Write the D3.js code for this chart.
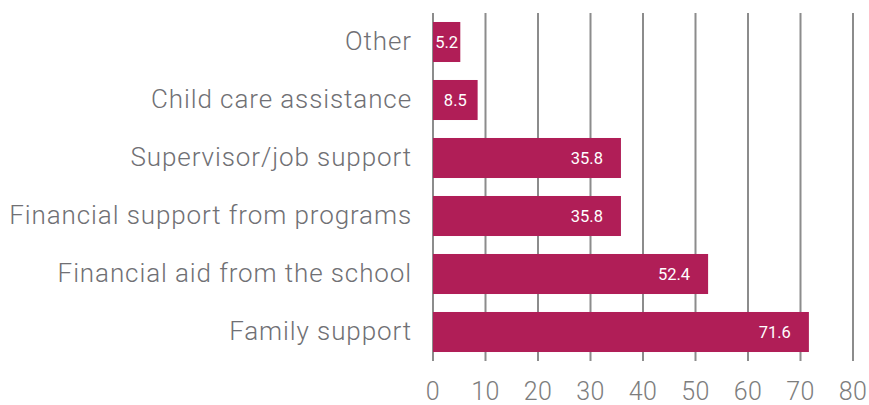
<!DOCTYPE html>
<html>
<head>
<meta charset="utf-8">
<script src="https://cdn.jsdelivr.net/npm/d3@7"></script>
<style>
  html, body { margin: 0; padding: 0; background: #fff; }
  svg { display: block; font-family: Roboto, "Noto Sans", sans-serif; }
</style>
</head>
<body>
<svg id="chart" width="869" height="405"></svg>
<script>
// Sources of support, percent of respondents
const categories = [
  "Other",
  "Child care assistance",
  "Supervisor/job support",
  "Financial support from programs",
  "Financial aid from the school",
  "Family support"
];
const values = [5.2, 8.5, 35.8, 35.8, 52.4, 71.6];
const tickValues = [0, 10, 20, 30, 40, 50, 60, 70, 80];

const svg = d3.select("#chart");
const plot = { left: 433, right: 853, top: 13, bottom: 361 };

const x = d3.scaleLinear().domain([0, 80]).range([plot.left, plot.right]);
const y = d3.scaleBand().domain(categories).range([plot.top, plot.bottom])
  .paddingInner(0.31).paddingOuter(0.155);

// vertical gridlines
svg.append("g")
  .selectAll("line")
  .data(tickValues)
  .join("line")
  .attr("x1", d => x(d)).attr("x2", d => x(d))
  .attr("y1", plot.top).attr("y2", plot.bottom)
  .attr("stroke", "#8c8c8c")
  .attr("stroke-width", 2);

// x tick labels
svg.append("g")
  .selectAll("text")
  .data(tickValues)
  .join("text")
  .attr("x", d => x(d))
  .attr("y", 400)
  .attr("text-anchor", "middle")
  .attr("fill", "#7d7d7d")
  .attr("font-size", 25)
  .attr("font-weight", 300)
  .attr("letter-spacing", 0.5)
  .text(d => d);

// bars
svg.append("g")
  .selectAll("rect")
  .data(categories)
  .join("rect")
  .attr("x", x(0))
  .attr("y", d => y(d))
  .attr("width", (d, i) => x(values[i]) - x(0))
  .attr("height", y.bandwidth())
  .attr("fill", "#b01e57");

// value labels inside bars
svg.append("g")
  .selectAll("text")
  .data(categories)
  .join("text")
  .each(function (d, i) {
    const w = x(values[i]) - x(0);
    const t = d3.select(this);
    if (w < 60) {
      t.attr("x", x(0) + w / 2).attr("text-anchor", "middle");
    } else {
      t.attr("x", x(values[i]) - 18).attr("text-anchor", "end");
    }
  })
  .attr("y", d => y(d) + y.bandwidth() / 2)
  .attr("dy", "0.36em")
  .attr("fill", "#ffffff")
  .attr("font-size", 16.5)
  .text((d, i) => values[i]);

// category labels
svg.append("g")
  .selectAll("text")
  .data(categories)
  .join("text")
  .attr("x", 412)
  .attr("y", d => y(d) + y.bandwidth() / 2)
  .attr("dy", "0.3em")
  .attr("text-anchor", "end")
  .attr("fill", "#707074")
  .attr("font-size", 26)
  .attr("font-weight", 300)
  .attr("letter-spacing", 0.9)
  .text(d => d);
</script>
</body>
</html>
